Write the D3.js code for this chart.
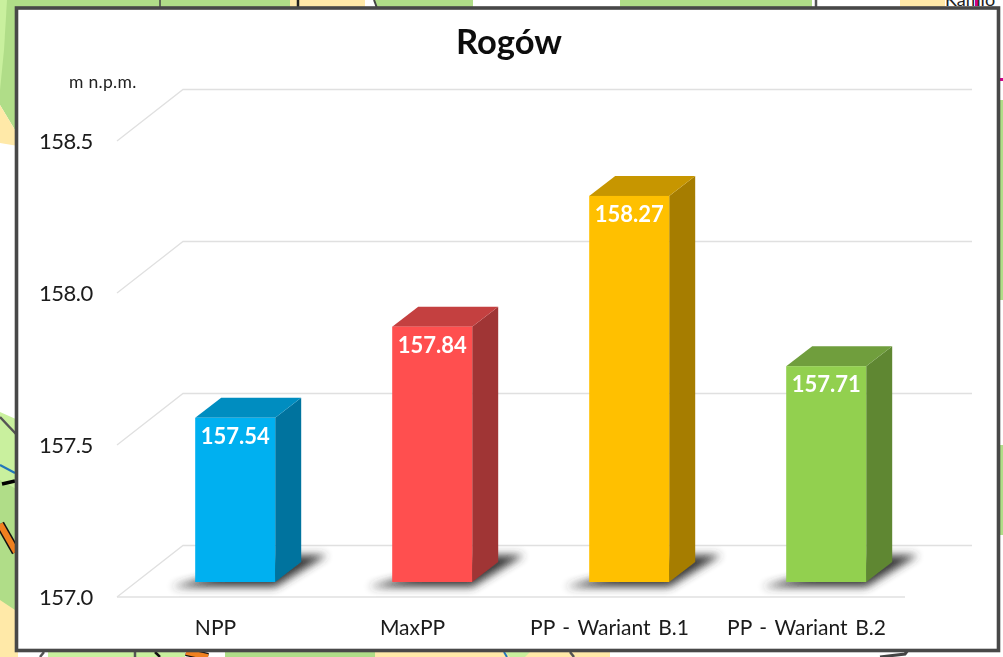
<!DOCTYPE html>
<html><head><meta charset="utf-8">
<script src="https://cdn.jsdelivr.net/npm/d3@7"></script>
<style>html,body{margin:0;padding:0;background:#fff}svg{display:block}text{font-family:Lato,"Open Sans",sans-serif}</style>
</head><body><svg id="c" width="1003" height="657"></svg>
<script>
const categories = ["NPP","MaxPP","PP - Wariant B.1","PP - Wariant B.2"];
const values = [157.54,157.84,158.27,157.71];
const ticks = [157.0,157.5,158.0,158.5];
const frontColors = ["#00B0F0","#FF5050","#FFC000","#92D050"];
const topColors = ["#008DC0","#C44040","#C79600","#6F9E3D"];
const sideColors = ["#00739E","#A03434","#A67D00","#5E8733"];
const chartTitle = "Rogów";
const unitLabel = "m n.p.m.";

const svg = d3.select("#c");
const defs = svg.append("defs");
defs.append("filter").attr("id","blur").attr("x","-40%").attr("y","-80%").attr("width","180%").attr("height","260%")
  .append("feGaussianBlur").attr("stdDeviation",4.2);
defs.append("filter").attr("id","soft").append("feGaussianBlur").attr("stdDeviation",0.4);

// map scraps behind the frame
const bg = svg.append("g");
const poly = (pts,fill,stroke,sw)=>bg.append("path").attr("d",d3.line()(pts)+(stroke?"":"Z"))
  .attr("fill",stroke?"none":fill).attr("stroke",stroke||"none").attr("stroke-width",sw||0);
poly([[0,0],[290,0],[290,12],[0,12]],"#B0DD88");
poly([[290,0],[365,0],[365,12],[290,12]],"#FFE9A8");
poly([[375,0],[473,0],[473,12],[375,12]],"#B0DD88");
poly([[620,0],[812,0],[812,12],[620,12]],"#B0DD88");
poly([[900,0],[945,0],[945,12],[900,12]],"#FFE9A8");
poly([[0,0],[18,0],[18,135],[0,105]],"#B0DD88");
poly([[0,0],[7,0],[4,50],[0,90]],"#C9F09E");
poly([[0,105],[18,135],[18,146],[0,143]],"#FFE9A8");
poly([[0,412],[18,420],[18,610],[0,600]],"#C9F09E");
poly([[0,480],[18,490],[18,620],[0,605]],"#B0DD88");
poly([[0,600],[18,612],[18,657],[0,657]],"#FFE9A8");
poly([[48,652],[135,652],[135,657],[48,657]],"#C9F09E");
poly([[135,652],[185,652],[185,657],[135,657]],"#C9F09E");
poly([[225,652],[375,652],[375,657],[225,657]],"#B0DD88");
poly([[375,652],[610,652],[610,657],[375,657]],"#FFE9A8");
poly([[505,652],[530,652],[525,657],[510,657]],"#C9F09E");
poly([[998,100],[1003,100],[1003,300],[998,300]],"#B0DD88");
poly([[998,445],[1003,445],[1003,535],[998,535]],"#B0DD88");
poly([[0,417],[16,434]],null,"#555",2.5);
poly([[0,465],[15,473]],null,"#2277bb",2);
poly([[2,484],[15,481]],null,"#000",3.5);
poly([[0,524],[16,552]],null,"#111",9);
poly([[0,524],[16,552]],null,"#F08020",6);
poly([[186,652],[208,657]],null,"#111",8);
poly([[186,652],[208,657]],null,"#F08020",5.5);
poly([[160,0],[160,10]],null,"#444",1.5);
poly([[44,652],[40,657]],null,"#555",2.5);
poly([[135,652],[135,657]],null,"#555",2.5);
poly([[155,652],[160,657]],null,"#111",2.5);
poly([[816,0],[816,8]],null,"#555",2.5);
poly([[570,652],[574,657]],null,"#555",2.5);
poly([[504,652],[507,657]],null,"#2277bb",2);
poly([[880,657],[905,654],[908,650]],null,"#444",3);
poly([[298,0],[298,8]],null,"#222",2.5);
poly([[374,0],[377,8]],null,"#444",2);
bg.append("rect").attr("x",997).attr("y",78).attr("width",6).attr("height",3).attr("fill","#D0008A");
bg.append("rect").attr("x",975).attr("y",0).attr("width",3).attr("height",6).attr("fill","#D0008A");
bg.append("text").attr("x",945).attr("y",6).attr("font-size",18).attr("fill","#222").text("Kamio");

// frame
svg.append("rect").attr("x",16.5).attr("y",8).attr("width",982).attr("height",642.5)
  .attr("fill","#fff").attr("stroke","#484848").attr("stroke-width",3.6);

const plot = svg.append("g").attr("filter","url(#soft)");
const depthX = 66, depthY = 51.5;
const barDepthX = 26, barDepthY = 20;
const y = d3.scaleLinear().domain([157,158.5]).range([597,141]);
const x = d3.scaleBand().domain(categories).range([117,905]);
const barW = 80, barShift = 19.7, baseLift = 15;

// gridlines on the back wall + floor
ticks.forEach(t=>{
  const yy=y(t);
  plot.append("path").attr("d",d3.line()([[117,yy],[117+depthX,yy-depthY],[117+depthX+789,yy-depthY]]))
    .attr("fill","none").attr("stroke","#E0E0E0").attr("stroke-width",1.3);
});
plot.append("line").attr("x1",117).attr("x2",905).attr("y1",y(157)).attr("y2",y(157)).attr("stroke","#E0E0E0").attr("stroke-width",1.6);

// tick labels
plot.selectAll("text.tick").data(ticks).join("text").attr("class","tick")
  .attr("x",39).attr("y",d=>y(d)+7.5).attr("font-size",22).attr("letter-spacing",-0.5).attr("fill","#1a1a1a").text(d=>d.toFixed(1));

const bx = d=>x(d)+x.bandwidth()/2+barShift-barW/2;
const base = y(157)-baseLift;
const hOf = v=>y(157)-y(v);

// shadows
plot.selectAll("path.sh").data(categories).join("path").attr("class","sh")
  .attr("d",d=>{const l=bx(d);return d3.line()([[l-24,base+5],[l+barW,base+5],[l+barW+52,base-27],[l+barW+18,base-27]])+"Z"})
  .attr("fill","#333").attr("opacity",.95).attr("filter","url(#blur)");

// bars
categories.forEach((c,i)=>{
  const l=bx(c), t=base-hOf(values[i]), r=l+barW;
  plot.append("path").attr("d",d3.line()([[r,t],[r+barDepthX,t-barDepthY],[r+barDepthX,base-barDepthY],[r,base]])+"Z").attr("fill",sideColors[i]);
  plot.append("path").attr("d",d3.line()([[l,t],[l+barDepthX,t-barDepthY],[r+barDepthX,t-barDepthY],[r,t]])+"Z").attr("fill",topColors[i]);
  plot.append("rect").attr("x",l).attr("y",t).attr("width",barW).attr("height",hOf(values[i])).attr("fill",frontColors[i]);
  plot.append("text").attr("x",l+barW/2).attr("y",t+26).attr("text-anchor","middle").attr("font-size",22).attr("font-weight",700).attr("fill","#fff").text(values[i].toFixed(2));
  plot.append("text").attr("x",x(c)+x.bandwidth()/2).attr("y",634.5).attr("text-anchor","middle").attr("font-size",21).attr("word-spacing",2.2).attr("fill","#1a1a1a").text(c);
});

plot.append("text").attr("x",509).attr("y",54).attr("text-anchor","middle").attr("font-size",34.5).attr("font-weight",700).attr("fill","#111").text(chartTitle);
plot.append("text").attr("x",69).attr("y",87.5).attr("font-size",17.5).attr("fill","#222").attr("letter-spacing",0.3).text(unitLabel);
</script></body></html>
